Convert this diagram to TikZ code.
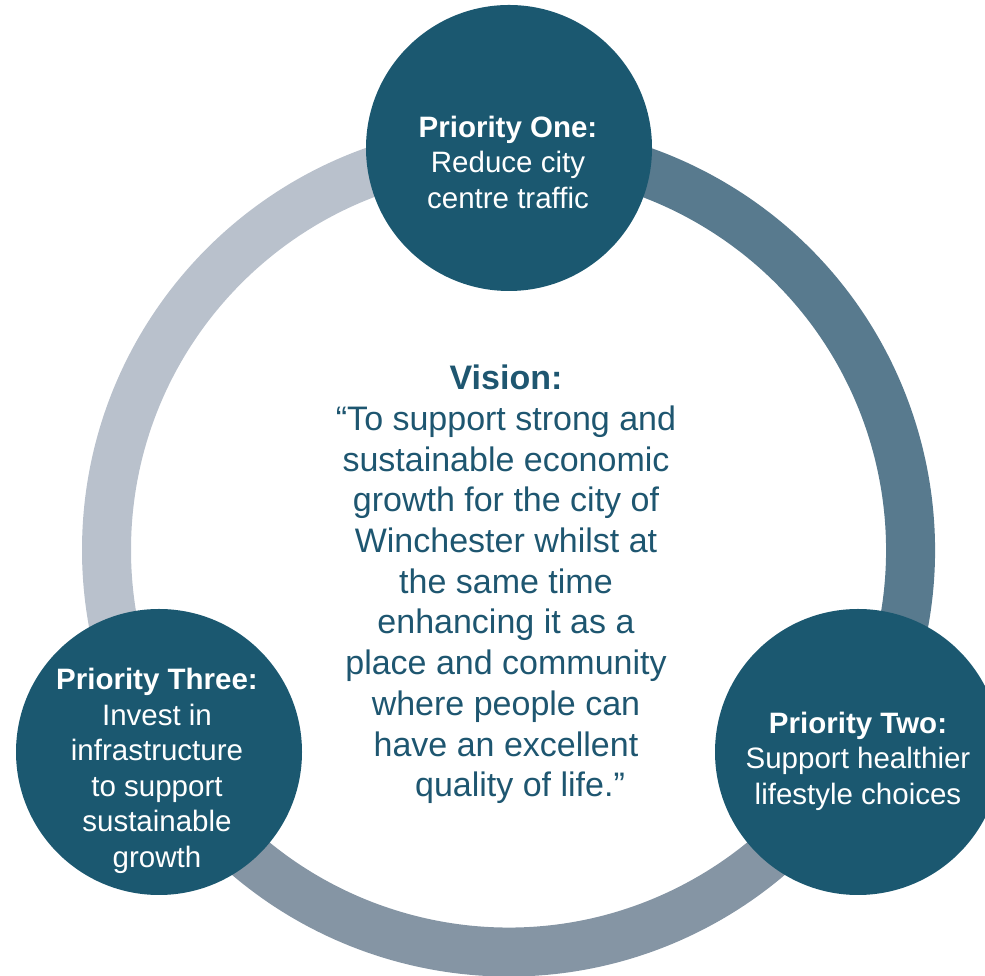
\documentclass[tikz,border=0pt]{standalone}
\usepackage{fontspec}
\setmainfont{Liberation Sans}
\definecolor{circ}{HTML}{1B5870}
\definecolor{arcA}{HTML}{B9C1CC}
\definecolor{arcB}{HTML}{587A8E}
\definecolor{arcC}{HTML}{8595A4}
\definecolor{vis}{HTML}{1E5670}
\begin{document}
\begin{tikzpicture}[x=1pt,y=1pt,
  ringarc/.style={line width=49pt},
  prio/.style={circle, fill=circ, minimum size=286pt, inner sep=0pt},
  priotext/.style={text=white, align=center, inner sep=0pt, font=\fontsize{29.5}{35.5}\selectfont},
  vistext/.style={text=vis, align=center, inner sep=0pt, font=\fontsize{34}{40.7}\selectfont}]
\useasboundingbox (0,0) rectangle (985,976);
\coordinate (c) at (508.5,426);
% ring arcs
\draw[ringarc, arcA] (c) ++(90:402pt) arc[start angle=90, end angle=210, radius=402pt];
\draw[ringarc, arcB] (c) ++(-30:402pt) arc[start angle=-30, end angle=90, radius=402pt];
\draw[ringarc, arcC] (c) ++(210:402pt) arc[start angle=210, end angle=330, radius=402pt];
% priority circles
\node[prio] (p1) at (509,828) {};
\node[prio] (p3) at (159,224) {};
\node[prio] (p2) at (858,224) {};
% texts
\node[priotext] (t1) at (508,814) {\textbf{Priority One:}\\Reduce city\\centre traffic};
\node[priotext] (t3) at (157,205) {\textbf{Priority Three:}\\Invest in\\infrastructure\\to support\\sustainable\\growth};
\node[priotext] (t2) at (858,215) {\textbf{Priority Two:}\\Support healthier\\lifestyle choices};
\node[vistext] (v) at (506,391.5) {\textbf{Vision:}\\“To support strong and\\sustainable economic\\growth for the city of\\Winchester whilst at\\the same time\\enhancing it as a\\place and community\\where people can\\have an excellent\\\hspace*{28pt}quality of life.”};
\end{tikzpicture}
\end{document}
